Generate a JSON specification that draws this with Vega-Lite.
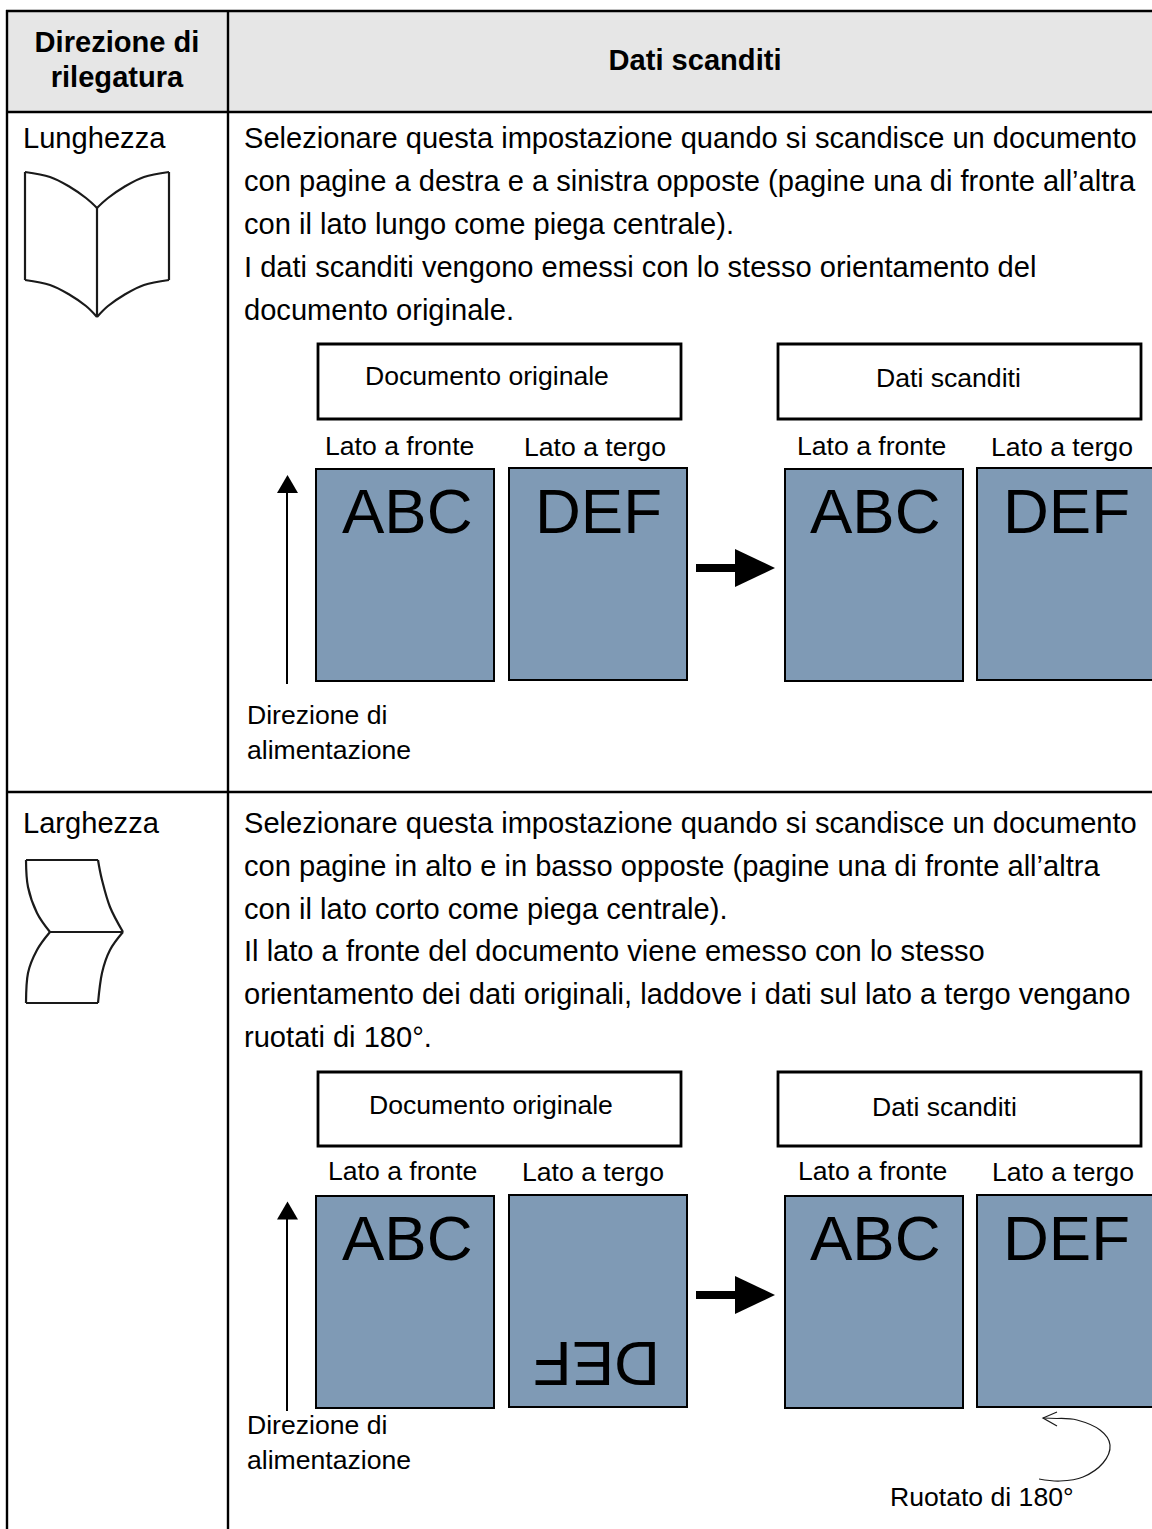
{"$schema":"https://vega.github.io/schema/vega-lite/v6.json","width":1152,"height":1529,"padding":0,"autosize":{"type":"none"},"background":"#ffffff","config":{"view":{"stroke":null},"text":{"font":"Liberation Sans","align":"left","baseline":"alphabetic","color":"#000000"}},
"encoding":{"x":{"field":"x","type":"quantitative","scale":{"domain":[0,1152],"range":[0,1152],"nice":false,"zero":false},"axis":null},"y":{"field":"y","type":"quantitative","scale":{"domain":[0,1529],"range":[0,1529],"nice":false,"zero":false},"axis":null}},
"layer":[
{"data":{"values":[{"x":7,"x2":1155,"y":11,"y2":112}]},"mark":{"type":"rect","fill":"#e6e6e6"},"encoding":{"x2":{"field":"x2"},"y2":{"field":"y2"}}},
{"data":{"values":[{"x":7,"x2":7,"y":10,"y2":1529},{"x":228,"x2":228,"y":10,"y2":1529},{"x":6,"x2":1155,"y":11,"y2":11},{"x":6,"x2":1155,"y":112,"y2":112},{"x":6,"x2":1155,"y":792,"y2":792}]},"mark":{"type":"rule","stroke":"#000000","strokeWidth":2.4},"encoding":{"x2":{"field":"x2"},"y2":{"field":"y2"}}},
{"data":{"values":[{"x":318,"x2":681,"y":344,"y2":419},{"x":778,"x2":1141,"y":344,"y2":419},{"x":318,"x2":681,"y":1072,"y2":1146},{"x":778,"x2":1141,"y":1072,"y2":1146}]},"mark":{"type":"rect","fill":"#ffffff","stroke":"#000000","strokeWidth":2.8},"encoding":{"x2":{"field":"x2"},"y2":{"field":"y2"}}},
{"data":{"values":[{"x":316,"x2":494,"y":469,"y2":681},{"x":509,"x2":687,"y":468,"y2":680},{"x":785,"x2":963,"y":469,"y2":681},{"x":977,"x2":1155,"y":468,"y2":680},{"x":316,"x2":494,"y":1196,"y2":1408},{"x":509,"x2":687,"y":1195,"y2":1407},{"x":785,"x2":963,"y":1196,"y2":1408},{"x":977,"x2":1155,"y":1195,"y2":1407}]},"mark":{"type":"rect","fill":"#7f9ab5","stroke":"#000000","strokeWidth":2},"encoding":{"x2":{"field":"x2"},"y2":{"field":"y2"}}},
{"data":{"values":[{"x":287,"x2":287,"y":684,"y2":490},{"x":287,"x2":287,"y":1411,"y2":1216}]},"mark":{"type":"rule","stroke":"#000000","strokeWidth":2},"encoding":{"x2":{"field":"x2"},"y2":{"field":"y2"}}},
{"data":{"values":[{"x":696,"x2":737,"y":568,"y2":568},{"x":696,"x2":737,"y":1295,"y2":1295}]},"mark":{"type":"rule","stroke":"#000000","strokeWidth":8},"encoding":{"x2":{"field":"x2"},"y2":{"field":"y2"}}},
{"data":{"values":[{"x":287.5,"y":484},{"x":287.5,"y":1210.5}]},"mark":{"type":"point","shape":"triangle-up","filled":true,"color":"#000000","opacity":1,"size":440,"strokeWidth":0}},
{"data":{"values":[{"x":755,"y":568},{"x":755,"y":1295}]},"mark":{"type":"point","shape":"M-0.5,-0.475L0.5,0L-0.5,0.475Z","filled":true,"color":"#000000","opacity":1,"size":6400,"strokeWidth":0}},
{"data":{"values":[
{"g":"s1","o":1,"x":25,"y":172},{"g":"s1","o":2,"x":50,"y":177},{"g":"s1","o":3,"x":70,"y":187},{"g":"s1","o":4,"x":86,"y":198},{"g":"s1","o":5,"x":97,"y":208},
{"g":"s2","o":1,"x":97,"y":208},{"g":"s2","o":2,"x":108,"y":198},{"g":"s2","o":3,"x":124,"y":187},{"g":"s2","o":4,"x":144,"y":177},{"g":"s2","o":5,"x":169,"y":172},
{"g":"s3","o":1,"x":169,"y":172},{"g":"s3","o":2,"x":169,"y":280},
{"g":"s4","o":1,"x":169,"y":280},{"g":"s4","o":2,"x":144,"y":285},{"g":"s4","o":3,"x":124,"y":295},{"g":"s4","o":4,"x":108,"y":306},{"g":"s4","o":5,"x":97,"y":317},
{"g":"s5","o":1,"x":97,"y":317},{"g":"s5","o":2,"x":86,"y":306},{"g":"s5","o":3,"x":70,"y":295},{"g":"s5","o":4,"x":50,"y":285},{"g":"s5","o":5,"x":25,"y":280},
{"g":"s6","o":1,"x":25,"y":280},{"g":"s6","o":2,"x":25,"y":172},
{"g":"s7","o":1,"x":97,"y":208},{"g":"s7","o":2,"x":97,"y":317},
{"g":"t1","o":1,"x":26,"y":860},{"g":"t1","o":2,"x":98,"y":860},
{"g":"t2","o":1,"x":26,"y":860},{"g":"t2","o":2,"x":28,"y":887},{"g":"t2","o":3,"x":37,"y":913},{"g":"t2","o":4,"x":50,"y":932},
{"g":"t3","o":1,"x":98,"y":860},{"g":"t3","o":2,"x":102,"y":880},{"g":"t3","o":3,"x":110,"y":907},{"g":"t3","o":4,"x":123,"y":932},
{"g":"t4","o":1,"x":50,"y":932},{"g":"t4","o":2,"x":123,"y":932},
{"g":"t5","o":1,"x":50,"y":932},{"g":"t5","o":2,"x":37,"y":950},{"g":"t5","o":3,"x":28,"y":973},{"g":"t5","o":4,"x":26,"y":1003},
{"g":"t6","o":1,"x":123,"y":932},{"g":"t6","o":2,"x":110,"y":950},{"g":"t6","o":3,"x":102,"y":973},{"g":"t6","o":4,"x":98,"y":1003},
{"g":"t7","o":1,"x":26,"y":1003},{"g":"t7","o":2,"x":98,"y":1003}
]},"mark":{"type":"line","stroke":"#1a1a1a","strokeWidth":2.2,"interpolate":"cardinal"},"encoding":{"detail":{"field":"g"},"order":{"field":"o"}}},
{"data":{"values":[
{"g":"u1","o":1,"x":1057,"y":1412},{"g":"u1","o":2,"x":1043,"y":1418},{"g":"u1","o":3,"x":1057,"y":1426},
{"g":"u2","o":1,"x":1043,"y":1418},{"g":"u2","o":2,"x":1057,"y":1418.5}
]},"mark":{"type":"line","stroke":"#1a1a1a","strokeWidth":1.2},"encoding":{"detail":{"field":"g"},"order":{"field":"o"}}},
{"data":{"values":[
{"o":1,"x":1057,"y":1418.5},{"o":2,"x":1077,"y":1420},{"o":3,"x":1100,"y":1430},{"o":4,"x":1110,"y":1445},{"o":5,"x":1103,"y":1463},{"o":6,"x":1083,"y":1477},{"o":7,"x":1060,"y":1481},{"o":8,"x":1039,"y":1479}
]},"mark":{"type":"line","stroke":"#1a1a1a","strokeWidth":1.2,"interpolate":"cardinal"},"encoding":{"order":{"field":"o"}}},
{"data":{"values":[
{"x":117,"y":52,"t":"Direzione di"},{"x":117,"y":87,"t":"rilegatura"},{"x":695,"y":70,"t":"Dati scanditi"}
]},"mark":{"type":"text","fontSize":29.1,"fontWeight":"bold","align":"center"},"encoding":{"text":{"field":"t"}}},
{"data":{"values":[
{"x":23,"y":148,"t":"Lunghezza"},{"x":23,"y":833,"t":"Larghezza"},
{"x":244,"y":148,"t":"Selezionare questa impostazione quando si scandisce un documento"},
{"x":244,"y":191,"t":"con pagine a destra e a sinistra opposte (pagine una di fronte all’altra"},
{"x":244,"y":234,"t":"con il lato lungo come piega centrale)."},
{"x":244,"y":277,"t":"I dati scanditi vengono emessi con lo stesso orientamento del"},
{"x":244,"y":320,"t":"documento originale."},
{"x":244,"y":833,"t":"Selezionare questa impostazione quando si scandisce un documento"},
{"x":244,"y":876,"t":"con pagine in alto e in basso opposte (pagine una di fronte all’altra"},
{"x":244,"y":919,"t":"con il lato corto come piega centrale)."},
{"x":244,"y":961,"t":"Il lato a fronte del documento viene emesso con lo stesso"},
{"x":244,"y":1004,"t":"orientamento dei dati originali, laddove i dati sul lato a tergo vengano"},
{"x":244,"y":1047,"t":"ruotati di 180°."}
]},"mark":{"type":"text","fontSize":29.1},"encoding":{"text":{"field":"t"}}},
{"data":{"values":[
{"x":365,"y":385,"t":"Documento originale"},{"x":876,"y":387,"t":"Dati scanditi"},
{"x":325,"y":455,"t":"Lato a fronte"},{"x":524,"y":456,"t":"Lato a tergo"},{"x":797,"y":455,"t":"Lato a fronte"},{"x":991,"y":456,"t":"Lato a tergo"},
{"x":247,"y":724,"t":"Direzione di"},{"x":247,"y":759,"t":"alimentazione"},
{"x":369,"y":1114,"t":"Documento originale"},{"x":872,"y":1116,"t":"Dati scanditi"},
{"x":328,"y":1180,"t":"Lato a fronte"},{"x":522,"y":1181,"t":"Lato a tergo"},{"x":798,"y":1180,"t":"Lato a fronte"},{"x":992,"y":1181,"t":"Lato a tergo"},
{"x":247,"y":1434,"t":"Direzione di"},{"x":247,"y":1469,"t":"alimentazione"},
{"x":890,"y":1506,"t":"Ruotato di 180°"}
]},"mark":{"type":"text","fontSize":26.6},"encoding":{"text":{"field":"t"}}},
{"data":{"values":[
{"x":342,"y":533,"t":"ABC"},{"x":535,"y":533,"t":"DEF"},{"x":810,"y":533,"t":"ABC"},{"x":1003,"y":533,"t":"DEF"},
{"x":342,"y":1260,"t":"ABC"},{"x":810,"y":1260,"t":"ABC"},{"x":1003,"y":1260,"t":"DEF"}
]},"mark":{"type":"text","fontSize":63.5},"encoding":{"text":{"field":"t"}}},
{"data":{"values":[{"x":660,"y":1342,"t":"DEF"}]},"mark":{"type":"text","fontSize":63.5,"angle":180},"encoding":{"text":{"field":"t"}}}
]}
